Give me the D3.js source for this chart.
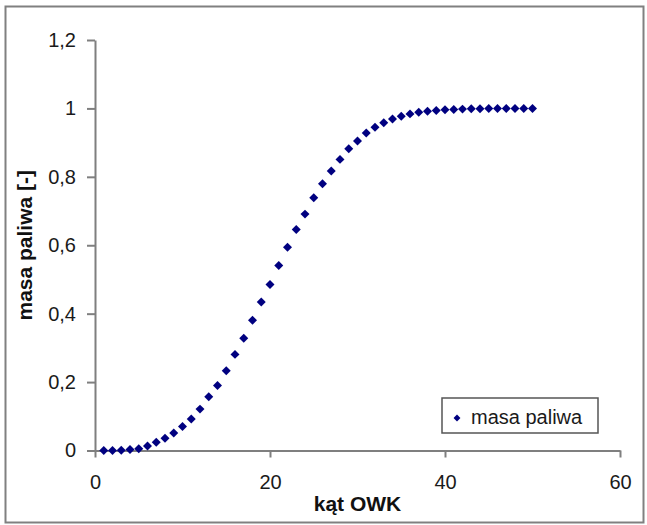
<!DOCTYPE html>
<html>
<head>
<meta charset="utf-8">
<script src="https://cdn.jsdelivr.net/npm/d3@7"></script>
<style>
  body { margin: 0; background: #fff; }
  svg { display: block; font-family: "Liberation Sans", Arial, sans-serif; }
</style>
</head>
<body>
<div id="chart"></div>
<script>
// data
const angle = d3.range(1, 51);
const mass = [0, 0, 0.001, 0.003, 0.005, 0.013, 0.024, 0.036, 0.051, 0.07,
  0.092, 0.121, 0.157, 0.19, 0.233, 0.281, 0.328, 0.381, 0.434, 0.485,
  0.541, 0.594, 0.646, 0.691, 0.739, 0.78, 0.817, 0.851, 0.882, 0.905,
  0.928, 0.945, 0.958, 0.969, 0.977, 0.984, 0.989, 0.992, 0.994, 0.996,
  0.997, 0.998, 0.999, 0.999, 1, 1, 1, 1, 1, 1];
const xTicks = [0, 20, 40, 60];
const yTicks = [0, 0.2, 0.4, 0.6, 0.8, 1, 1.2];
const seriesName = 'masa paliwa';

const width = 647, height = 525;
const svg = d3.select('#chart').append('svg')
    .attr('width', width).attr('height', height);

// outer frame
svg.append('rect')
    .attr('x', 5.5).attr('y', 6.5)
    .attr('width', 638).attr('height', 516)
    .attr('fill', 'none')
    .attr('stroke', '#808080')
    .attr('stroke-width', 2);

const x = d3.scaleLinear().domain([0, 60]).range([95, 620]);
const y = d3.scaleLinear().domain([0, 1.2]).range([450.5, 40]);

const fmt = d => d3.format('~g')(d).replace('.', ',');

const xAxis = svg.append('g')
    .attr('transform', 'translate(0,' + y(0) + ')')
    .call(d3.axisBottom(x).tickValues(xTicks).tickSize(7).tickSizeOuter(0).tickPadding(17).tickFormat(fmt));

const yAxis = svg.append('g')
    .attr('transform', 'translate(' + x(0) + ',0)')
    .call(d3.axisLeft(y).tickValues(yTicks).tickSize(8).tickSizeOuter(0).tickPadding(11).tickFormat(fmt));

[xAxis, yAxis].forEach(g => {
    g.select('.domain').attr('stroke', '#7f7f7f').attr('stroke-width', 2);
    g.selectAll('.tick line').attr('stroke', '#7f7f7f').attr('stroke-width', 2);
    g.selectAll('.tick text')
        .style('font-size', '20px')
        .style('font-family', '"Liberation Sans", Arial, sans-serif')
        .attr('fill', '#1a1a1a');
});

// points
const diamond = d3.symbol().type(d3.symbolSquare).size(40);
svg.append('g')
    .selectAll('path')
    .data(angle.map((a, i) => [a, mass[i]]))
    .join('path')
    .attr('d', diamond)
    .attr('transform', d => 'translate(' + x(d[0]) + ',' + y(d[1]) + ') rotate(45)')
    .attr('fill', '#000080');

// axis titles
svg.append('text')
    .attr('x', (x(0) + x(60)) / 2)
    .attr('y', 511)
    .attr('text-anchor', 'middle')
    .style('font-size', '21px')
    .style('font-weight', 'bold')
    .attr('fill', '#111')
    .text('kąt OWK');

svg.append('text')
    .attr('transform', 'translate(32,' + (y(0) + y(1.2)) / 2 + ') rotate(-90)')
    .attr('text-anchor', 'middle')
    .style('font-size', '21px')
    .style('font-weight', 'bold')
    .attr('fill', '#111')
    .text('masa paliwa [-]');

// legend
const legend = svg.append('g').attr('transform', 'translate(442,398)');
legend.append('rect')
    .attr('width', 156).attr('height', 35)
    .attr('fill', '#fff')
    .attr('stroke', '#555')
    .attr('stroke-width', 1.5);
legend.append('path')
    .attr('d', d3.symbol().type(d3.symbolSquare).size(24))
    .attr('transform', 'translate(15,20) rotate(45)')
    .attr('fill', '#000080');
legend.append('text')
    .attr('x', 29).attr('y', 26)
    .style('font-size', '20px')
    .attr('fill', '#1a1a1a')
    .text(seriesName);
</script>
</body>
</html>
